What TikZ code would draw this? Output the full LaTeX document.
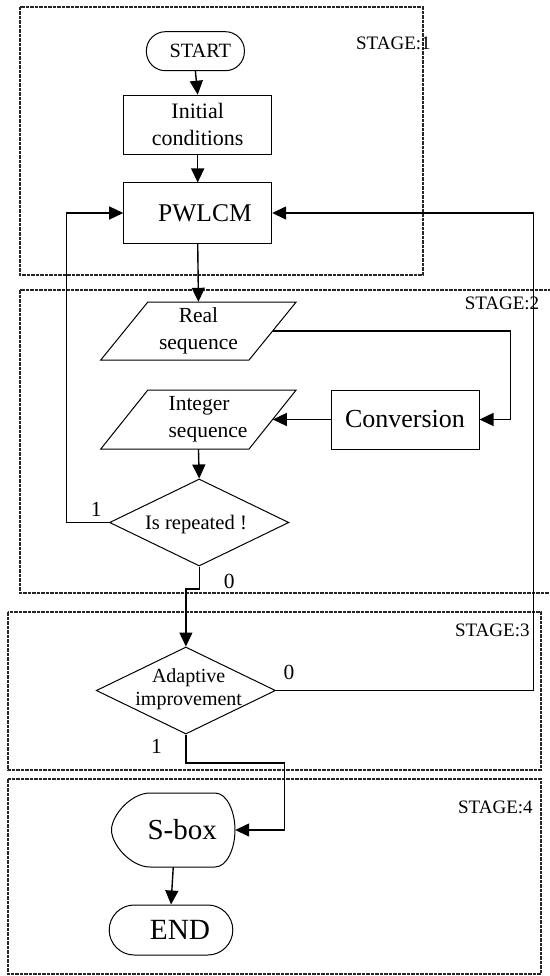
\documentclass[tikz,border=0pt]{standalone}
\usepackage{fontspec}
\setmainfont{Liberation Serif}
\usetikzlibrary{arrows.meta,shapes.geometric}
\begin{document}
\begin{tikzpicture}[x=1pt,y=-1pt,
  box/.style={draw,line width=1pt,inner sep=0pt,rectangle},
  txt/.style={inner sep=0pt,font=\fontsize{21.5}{27}\selectfont,align=center},
  arr/.style={line width=1.4pt,-{Triangle[length=14pt,width=13pt]}},
  shp/.style={line width=1pt},
  frame/.style={line width=2.2pt,dash pattern=on 3.5pt off 1pt,color=black!85},
  stg/.style={inner sep=0pt,font=\fontsize{19}{23}\selectfont},
]
\useasboundingbox (0,0) rectangle (549,976);
% stage frames
\draw[frame] (20,7) rectangle (422.6,275);
\draw[frame] (20,290) rectangle (570,593);
\draw[frame] (7.7,612) rectangle (541,770);
\draw[frame] (7.7,779) rectangle (541,974);
\node[stg] (s1) at (393.4,43) {STAGE:1};
\node[stg] (s2) at (502,303) {STAGE:2};
\node[stg] (s3) at (492.3,630) {STAGE:3};
\node[stg] (s4) at (495.4,807) {STAGE:4};
% nodes
\node[box,rounded corners=19pt,minimum width=98pt,minimum height=39pt,font=\fontsize{20.3}{24}\selectfont] (start) at (195.4,51.2) {\hspace*{10pt}START};
\node[box,txt,font=\fontsize{22}{27}\selectfont,minimum width=148pt,minimum height=59pt] (init) at (197.7,124.7) {Initial\\conditions};
\node[box,minimum width=148pt,minimum height=60pt,font=\fontsize{25.5}{30}\selectfont] (pwlcm) at (197.7,213) {\hspace*{14.6pt}PWLCM};
\node[txt,minimum width=148.3pt,minimum height=58pt] (real) at (198.45,331) {Real\\sequence};
\draw[shp,shift={(real.center)}] (-50.6,-29) -- (97.7,-29) -- (50.6,29) -- (-97.7,29) -- cycle;
\node[box,minimum width=148pt,minimum height=59pt,font=\fontsize{26}{30}\selectfont] (conv) at (405,419.5) {Conversion};
\node[minimum width=148.3pt,minimum height=59pt,inner sep=0pt] (int) at (198.45,419.5) {};
\draw[shp,shift={(int.center)}] (-50.6,-29.5) -- (97.7,-29.5) -- (50.6,29.5) -- (-97.7,29.5) -- cycle;
\node[txt,align=left] (intt) at (208,419.5) {Integer\\sequence};
\node[draw,diamond,shp,minimum width=179.3pt,minimum height=87pt,inner sep=0pt] (rep) at (199.2,522.5) {};
\node[txt,font=\fontsize{20.6}{25}\selectfont] (rept) at (196,525) {Is repeated !};
\node[draw,diamond,shp,minimum width=179.3pt,minimum height=87pt,inner sep=0pt] (adapt) at (185.9,690.5) {};
\node[txt,font=\fontsize{20}{23}\selectfont] (adaptt) at (188.7,689) {Adaptive\\improvement};
\node[minimum width=123.5pt,minimum height=74pt,inner sep=0pt,font=\fontsize{29}{33}\selectfont] (sbox) at (173.25,830) {\hspace*{18pt}S-box};
\draw[shp,shift={(sbox.center)}] (-23.25,-37) -- (41.75,-37) .. controls (54,-37) and (61.75,-18) .. (61.75,0) .. controls (61.75,18) and (54,37) .. (41.75,37) -- (-23.25,37) .. controls (-42,37) and (-61.75,15) .. (-61.75,0) .. controls (-61.75,-15) and (-42,-37) .. cycle;
\node[box,rounded corners=25pt,minimum width=123.6pt,minimum height=50pt,font=\fontsize{29.3}{33}\selectfont] (end) at (171,930) {\hspace*{18pt}END};
% branch labels
\node[txt] (n1) at (96.3,509) {1};
\node[txt] (n2) at (229.3,581) {0};
\node[txt] (n3) at (288.9,672) {0};
\node[txt] (n4) at (156.5,746) {1};
% bend points
\coordinate (rc) at (510.2,331);
\coordinate (lb) at (66.5,522.5);
\coordinate (j0) at (199.2,589);
\coordinate (rb) at (533.3,690.5);
\coordinate (j1) at (185.9,763);
\coordinate (j2) at (284.7,763);
% connectors
\draw[arr] (start.south) -- (init.north);
\draw[arr] (init.south) -- (pwlcm.north);
\draw[arr] (pwlcm.south) -- (real.north);
\draw[arr] (real.east) -- (rc) |- (conv.east);
\draw[arr] (conv.west) -- (int.east);
\draw[arr] (int.south) -- (rep.north);
\draw[arr] (rep.west) -- (lb) |- (pwlcm.west);
\draw[arr] (rep.south) -- (j0) -| (adapt.north);
\draw[arr] (adapt.east) -- (rb) |- (pwlcm.east);
\draw[arr] (adapt.south) -- (j1) -- (j2) |- (sbox.east);
\draw[arr] (sbox.south) -- (end.north);
\end{tikzpicture}
\end{document}
